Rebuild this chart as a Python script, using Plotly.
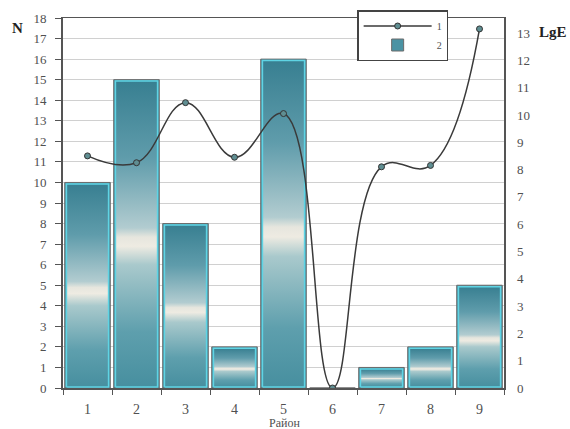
import plotly.graph_objects as go

districts = [1, 2, 3, 4, 5, 6, 7, 8, 9]
district_labels = ["1", "2", "3", "4", "5", "6", "7", "8", "9"]
n_values = [10, 15, 8, 2, 16, 0, 1, 2, 5]
lge_values = [8.5, 8.25, 10.45, 8.45, 10.05, 0, 8.1, 8.15, 13.15]
left_ticks = list(range(0, 19))
right_ticks = list(range(0, 14))

FONT = "Liberation Serif"
TXT = "#505050"

fig = go.Figure()

fig.add_trace(go.Bar(
    x=districts, y=n_values, width=0.93, name="2", legendrank=2,
    marker=dict(color="#4a93a4", line=dict(color="#6a6a6a", width=1)),
    hoverinfo="skip",
))

grad = [[0, "#478f9f"], [0.18, "#5e9fad"], [0.4, "#a9c9cc"], [0.46, "#eeebe2"],
        [0.49, "#e6e6de"], [0.52, "#b2ccd0"], [0.75, "#5f9cab"], [1, "#387f91"]]
half = 0.43
for xv, v in zip(districts, n_values):
    if v <= 0:
        continue
    fig.add_trace(go.Scatter(
        x=[xv - half, xv + half, xv + half, xv - half, xv - half],
        y=[0.05, 0.05, v - 0.07, v - 0.07, 0.05],
        mode="lines", fill="toself",
        fillgradient=dict(type="vertical", colorscale=grad),
        line=dict(color="#5fd4e4", width=1.5),
        showlegend=False, hoverinfo="skip",
    ))

fig.add_trace(go.Scatter(
    x=districts, y=lge_values, yaxis="y2", name="1", legendrank=1,
    mode="lines+markers",
    line=dict(color="#3a3a3a", width=1.5, shape="spline", smoothing=1.2),
    marker=dict(size=6, color="#5f8e92", line=dict(color="#333333", width=1)),
))

fig.update_layout(
    width=570, height=429,
    margin=dict(l=63, r=66, t=18, b=41, autoexpand=False),
    plot_bgcolor="white", paper_bgcolor="white",
    barmode="overlay",
    font=dict(family=FONT, size=13, color=TXT),
    xaxis=dict(
        range=[0.5, 9.5], tickmode="array", tickvals=districts, ticktext=district_labels,
        ticks="", showgrid=False, zeroline=False, automargin=False,
        showline=True, linecolor="#555555", linewidth=1.5, mirror=True,
        tickfont=dict(size=14, family=FONT, color=TXT), ticklabelstandoff=8,
        minor=dict(tickmode="array", tickvals=[d - 0.5 for d in districts] + [districts[-1] + 0.5],
                   ticks="outside", ticklen=5, tickcolor="#555555", showgrid=False),
    ),
    yaxis=dict(
        range=[0, 18], tickmode="array", tickvals=left_ticks,
        ticks="outside", ticklen=6, tickcolor="#555555", automargin=False,
        showgrid=True, gridcolor="#d0d0d0", gridwidth=1, zeroline=False,
        showline=True, linecolor="#555555", linewidth=2, mirror=True,
        tickfont=dict(size=13, family=FONT, color=TXT), ticklabelstandoff=6,
    ),
    yaxis2=dict(
        overlaying="y", side="right", range=[0, 13.55], tickmode="array", tickvals=right_ticks,
        ticks="", showgrid=False, zeroline=False, showline=False, automargin=False,
        tickfont=dict(size=13, family=FONT, color=TXT), ticklabelstandoff=12,
    ),
    legend=dict(
        x=0.667, y=1.0216, xanchor="left", yanchor="top",
        bgcolor="white", bordercolor="#444444", borderwidth=1.5,
        font=dict(size=10, family=FONT, color=TXT), entrywidth=100,
        itemwidth=68,
    ),
    annotations=[
        dict(text="<b>N</b>", x=-0.104, y=0.973, xref="paper", yref="paper",
             xanchor="center", yanchor="middle",
             showarrow=False, font=dict(size=15, family=FONT, color="#222222")),
        dict(text="<b>LgE</b>", x=1.111, y=0.962, xref="paper", yref="paper",
             xanchor="center", yanchor="middle",
             showarrow=False, font=dict(size=15, family=FONT, color="#222222")),
        dict(text="Район", x=0.503, y=-0.095, xref="paper", yref="paper",
             xanchor="center", yanchor="middle",
             showarrow=False, font=dict(size=12, family=FONT, color=TXT)),
    ],
)

fig.write_html(
    "out.html",
    config={"displayModeBar": False, "staticPlot": True},
    post_script="document.body.style.margin='0';document.body.style.overflow='hidden';",
)
